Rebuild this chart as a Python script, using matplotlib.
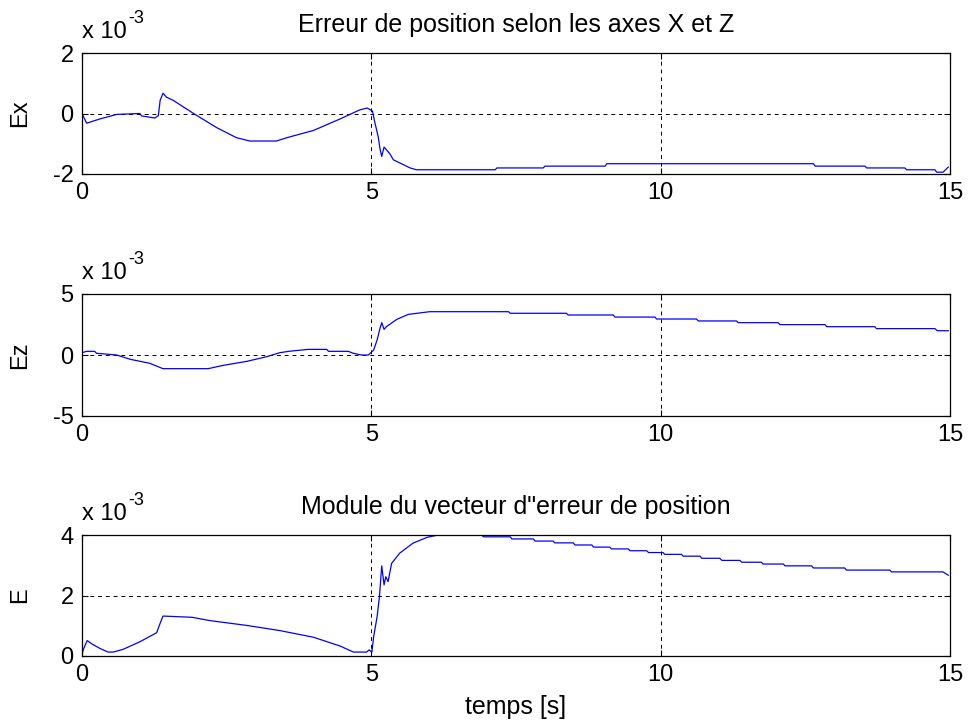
import matplotlib.pyplot as plt
from matplotlib.transforms import offset_copy

plt.rcParams['font.family'] = ['Liberation Sans', 'DejaVu Sans']
plt.rcParams['axes.unicode_minus'] = False

# temps [s] et erreurs (en unites de 1e-3)
t_ex = [0, 0.08, 0.31, 0.6, 1.0, 1.03, 1.26, 1.32, 1.35, 1.40, 1.46, 1.58, 1.92, 2.33, 2.67,
        2.90, 3.36, 3.54, 4.0, 4.46, 4.80, 4.93, 5.02, 5.06, 5.12, 5.15, 5.18, 5.22, 5.32, 5.38,
        5.67, 5.78, 7.14, 7.17, 7.97, 8.0, 9.04, 9.07, 12.64, 12.67, 13.53, 13.56, 14.22, 14.25,
        14.74, 14.77, 14.88, 14.97]
ex = [0, -0.32, -0.18, -0.03, 0, -0.08, -0.15, -0.07, 0.43, 0.67, 0.54, 0.43, 0.01, -0.47, -0.80,
      -0.91, -0.91, -0.80, -0.56, -0.18, 0.12, 0.18, 0.08, -0.29, -0.78, -1.17, -1.42, -1.11, -1.33, -1.53,
      -1.80, -1.86, -1.86, -1.80, -1.80, -1.74, -1.74, -1.66, -1.66, -1.74, -1.74, -1.80, -1.80, -1.86,
      -1.86, -1.94, -1.94, -1.77]

t_ez = [0, 0.08, 0.22, 0.25, 0.6, 0.83, 1.17, 1.40, 2.18, 2.44, 2.85, 3.19, 3.42, 3.57, 3.91,
        4.23, 4.26, 4.6, 4.69, 4.83, 4.95, 5.04, 5.10, 5.15, 5.18, 5.22, 5.26, 5.44, 5.64, 6.01,
        7.37, 7.40, 8.37, 8.40, 9.18, 9.21, 9.90, 9.93, 10.62, 10.65, 11.31, 11.34, 12.03, 12.06,
        12.84, 12.87, 13.70, 13.73, 14.74, 14.78, 14.97]
ez = [0.19, 0.30, 0.30, 0.14, 0, -0.35, -0.68, -1.12, -1.12, -0.85, -0.52, -0.14, 0.19, 0.30, 0.46,
      0.46, 0.30, 0.30, 0.14, 0, 0, 0.41, 1.23, 2.19, 2.65, 2.10, 2.32, 2.92, 3.33, 3.55,
      3.55, 3.42, 3.42, 3.28, 3.28, 3.11, 3.11, 2.95, 2.95, 2.79, 2.79, 2.65, 2.65, 2.49,
      2.49, 2.32, 2.32, 2.16, 2.16, 1.99, 1.99]

t_e = [0, 0.03, 0.09, 0.17, 0.31, 0.45, 0.54, 0.71, 1.0, 1.29, 1.35, 1.40, 1.90, 2.21, 2.85,
       3.42, 4.0, 4.46, 4.69, 4.92, 4.96, 5.01, 5.04, 5.10, 5.14, 5.18, 5.22, 5.25, 5.29, 5.35,
       5.49, 5.72, 5.96, 6.13, 6.91, 6.94, 7.40, 7.43, 7.80, 7.83, 8.14, 8.17, 8.49, 8.52, 8.81,
       8.84, 9.12, 9.15, 9.44, 9.47, 9.76, 9.79, 10.04, 10.07, 10.36, 10.39, 10.68, 10.71, 11.02,
       11.06, 11.37, 11.40, 11.74, 11.77, 12.12, 12.15, 12.61, 12.64, 13.18, 13.21, 13.96, 13.99,
       14.88, 14.97]
e = [0.07, 0.25, 0.51, 0.40, 0.25, 0.13, 0.13, 0.22, 0.47, 0.77, 1.08, 1.32, 1.28, 1.17, 1.01,
     0.84, 0.62, 0.33, 0.13, 0.13, 0.20, 0.13, 0.64, 1.30, 1.96, 2.98, 2.35, 2.62, 2.46, 3.06,
     3.40, 3.73, 3.92, 3.99, 3.99, 3.94, 3.94, 3.87, 3.87, 3.80, 3.80, 3.74, 3.74, 3.67, 3.67,
     3.60, 3.60, 3.54, 3.54, 3.48, 3.48, 3.42, 3.42, 3.36, 3.36, 3.30, 3.30, 3.23, 3.23,
     3.16, 3.16, 3.10, 3.10, 3.04, 3.04, 2.98, 2.98, 2.91, 2.91, 2.84, 2.84, 2.78, 2.78,
     2.67]

x_ticks = [0, 5, 10, 15]

fig = plt.figure(figsize=(9.68, 7.27), dpi=100)
W, H = 968.0, 727.0
FS = 17

def make_ax(top, bottom):
    return fig.add_axes([82 / W, 1 - bottom / H, 868 / W, (bottom - top) / H])

panels = [
    (make_ax(53, 174), t_ex, ex, 'Ex', [-2, 0, 2], 'Erreur de position selon les axes X et Z'),
    (make_ax(294, 416), t_ez, ez, 'Ez', [-5, 0, 5], None),
    (make_ax(535, 656), t_e, e, 'E', [0, 2, 4], 'Module du vecteur d"erreur de position'),
]

for ax, t, y, lab, yt, title in panels:
    ax.plot(t, y, color='#0000ff', linewidth=0.9)
    ax.set_xlim(0, 15)
    ax.set_ylim(yt[0], yt[-1])
    ax.set_xticks(x_ticks)
    ax.set_yticks(yt)
    ax.tick_params(direction='in', top=True, right=True, length=4, width=0.8,
                   labelsize=FS, pad=6)
    ax.grid(True, color='k', linestyle=(0, (4, 4)), linewidth=0.7)
    for s in ax.spines.values():
        s.set_linewidth(0.9)
    ax.set_ylabel(lab, fontsize=FS)
    ax.yaxis.set_label_coords(-0.059, 0.5)
    # facteur d'echelle facon MATLAB
    tr = offset_copy(ax.transAxes, fig=fig, x=0, y=15, units='dots')
    ax.text(0, 1, 'x 10', transform=tr, fontsize=FS, ha='left', va='baseline')
    tr = offset_copy(ax.transAxes, fig=fig, x=46, y=30, units='dots')
    ax.text(0, 1, '-3', transform=tr, fontsize=13, ha='left', va='baseline')
    if title:
        ax.set_title(title, fontsize=18, pad=15)

panels[2][0].set_xlabel('temps [s]', fontsize=18, labelpad=6)

fig.savefig('out.png', dpi=100)
